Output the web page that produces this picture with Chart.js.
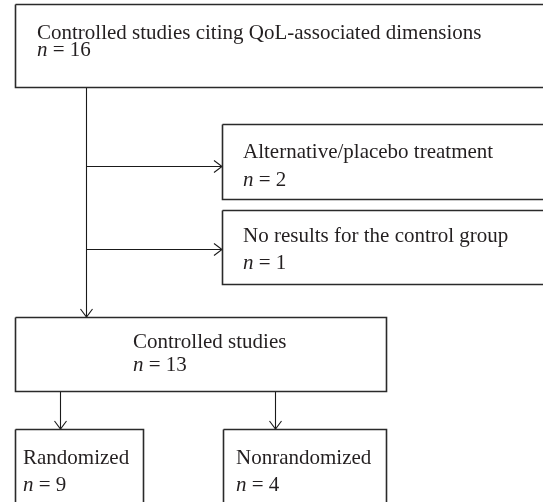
<!DOCTYPE html>
<html><head><meta charset="utf-8">
<script src="https://cdn.jsdelivr.net/npm/chart.js@4"></script>
<style>html,body{margin:0;padding:0;background:#fff}#wrap{width:543px;height:502px;position:relative}</style>
</head><body><div id="wrap"><canvas id="c"></canvas></div>
<script>
// ---- data ----
const stageLabels = [
  "Controlled studies citing QoL-associated dimensions",
  "Alternative/placebo treatment",
  "No results for the control group",
  "Controlled studies",
  "Randomized",
  "Nonrandomized"
];
const stageCounts = [16, 2, 1, 13, 9, 4];

// ---- layout (diagram units = pixels) ----
const boxRects = [
  [15.5, 4.5, 560, 87.5],
  [222.5, 124.5, 560, 199.5],
  [222.5, 210.5, 560, 284.5],
  [15.5, 317.5, 386.5, 391.5],
  [15.5, 429.5, 143.5, 520],
  [223.5, 429.5, 386.5, 520]
];
const textAnchors = [
  [37, 39, 56],
  [243, 158, 186],
  [243, 242, 269],
  [133, 348, 371],
  [23, 464, 491],
  [236, 464, 491]
];
const connectors = [
  [[86.5, 87.5], [86.5, 317]],
  [[86.5, 166.5], [222, 166.5]],
  [[86.5, 249.5], [222, 249.5]],
  [[60.5, 391.5], [60.5, 429]],
  [[275.5, 391.5], [275.5, 429]]
];
const arrowTips = [
  [86.5, 317, 'down'],
  [222, 166.5, 'right'],
  [222, 249.5, 'right'],
  [60.5, 429, 'down'],
  [275.5, 429, 'down']
];
const HEAD_LEN = 8, HEAD_HALF = 6;

const datasets = [];
boxRects.forEach(([x0, y0, x1, y1]) => {
  datasets.push({
    data: [{x:x0,y:y0},{x:x1,y:y0},{x:x1,y:y1},{x:x0,y:y1},{x:x0,y:y0}],
    showLine: true, pointRadius: 0, borderColor: '#2a2a2a', borderWidth: 1.6,
    borderJoinStyle: 'miter', fill: false, tension: 0
  });
});
connectors.forEach(pts => {
  datasets.push({
    data: pts.map(([x, y]) => ({x, y})),
    showLine: true, pointRadius: 0, borderColor: '#1a1a1a', borderWidth: 1.1, fill: false
  });
});
arrowTips.forEach(([x, y, dir]) => {
  const d = dir === 'down'
    ? [{x:x-HEAD_HALF,y:y-HEAD_LEN},{x,y},{x:x+HEAD_HALF,y:y-HEAD_LEN}]
    : [{x:x-HEAD_LEN,y:y-HEAD_HALF},{x,y},{x:x-HEAD_LEN,y:y+HEAD_HALF}];
  datasets.push({
    data: d, showLine: true, pointRadius: 0, borderColor: '#1a1a1a', borderWidth: 1.1,
    borderJoinStyle: 'miter', fill: false
  });
});

const textPlugin = {
  id: 'boxText',
  afterDatasetsDraw(chart) {
    const ctx = chart.ctx, sx = chart.scales.x, sy = chart.scales.y;
    ctx.save();
    ctx.fillStyle = '#231f20';
    ctx.textBaseline = 'alphabetic';
    ctx.textAlign = 'left';
    stageLabels.forEach((label, i) => {
      const [tx, b1, b2] = textAnchors[i];
      const px = sx.getPixelForValue(tx);
      ctx.font = '21px "Liberation Serif"';
      ctx.fillText(label, px, sy.getPixelForValue(b1));
      const by = sy.getPixelForValue(b2);
      ctx.font = 'italic 21px "Liberation Serif"';
      ctx.fillText('n', px, by);
      let w = ctx.measureText('n').width;
      ctx.font = '21px "Liberation Serif"';
      ctx.fillText(' = ' + stageCounts[i], px + w, by);
    });
    ctx.restore();
  }
};

new Chart(document.getElementById('c'), {
  type: 'scatter',
  data: { datasets },
  options: {
    animation: false, responsive: true, maintainAspectRatio: false, events: [],
    layout: { padding: 0 },
    plugins: { legend: { display: false }, tooltip: { enabled: false } },
    scales: {
      x: { type: 'linear', min: 0, max: 543, display: false },
      y: { type: 'linear', min: 0, max: 502, reverse: true, display: false }
    }
  },
  plugins: [textPlugin]
});
</script></body></html>
